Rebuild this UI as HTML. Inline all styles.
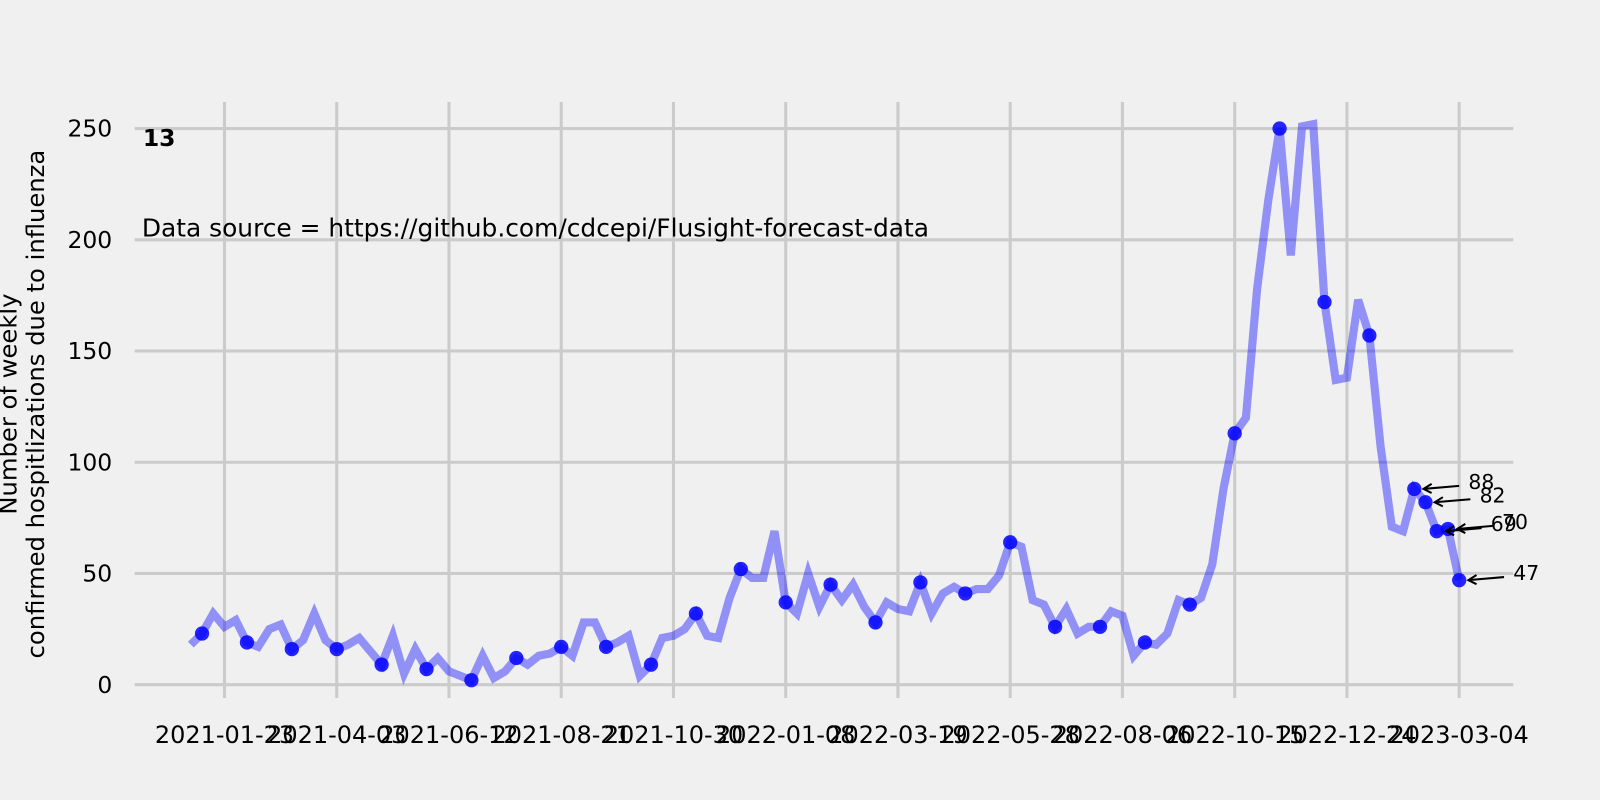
<!DOCTYPE html>
<html><head><meta charset="utf-8"><style>
html,body{margin:0;padding:0;background:#f0f0f0;width:1600px;height:800px;overflow:hidden;}
svg{display:block;}
svg text{font-family:"DejaVu Sans","Liberation Sans",sans-serif;}
</style></head><body>
<svg id="chart" width="1600" height="800" xmlns="http://www.w3.org/2000/svg">
<rect width="1600" height="800" fill="#f0f0f0"/>
<g transform="scale(1.0204)">
<g id="grid"></g><g id="series"></g><g id="labels"></g>
<text x="140" y="143" font-size="23" font-weight="bold">13</text>
<text x="139" y="232" font-size="24.4">Data source = https://github.com/cdcepi/Flusight-forecast-data</text>
<g transform="translate(0,396) rotate(-90)">
<text x="0" y="16" text-anchor="middle" font-size="23.8">Number of weekly</text>
<text x="0" y="43" text-anchor="middle" font-size="23.8">confirmed hospitlizations due to influenza</text>
</g>
</g>
</svg>
<script>
const values=[18,23,32,26,29,19,17,25,27,16,20,32,20,16,18,21,15,9,22,5,16,7,12,6,4,2,13,3,6,12,9,13,14,17,13,28,28,17,19,22,4,9,21,22,25,32,22,21,39,52,48,48,69,37,32,50,35,45,38,45,35,28,37,34,33,46,32,41,44,41,43,43,49,64,62,38,36,26,34,23,26,26,33,31,13,19,18,23,38,36,39,54,88,113,120,178,218,250,193,251,252,172,137,138,173,157,107,71,69,88,82,69,70,47];
const startDate="2021-01-02";
const tickLabels=["2021-01-23","2021-04-03","2021-06-12","2021-08-21","2021-10-30","2022-01-08","2022-03-19","2022-05-28","2022-08-06","2022-10-15","2022-12-24","2023-03-04"];
const yTicks=[0,50,100,150,200,250];
const annotated=[88,82,69,70,47];
const NS="http://www.w3.org/2000/svg";
const day0=Date.parse(startDate);
function xd(s){return 187+(Date.parse(s)-day0)/86400000*11/7;}
function xi(i){return 187+i*11;}
function y(v){return 671-v*2.18;}
function mk(t,a,p,txt){const e=document.createElementNS(NS,t);for(const k in a)e.setAttribute(k,a[k]);if(txt!==undefined)e.textContent=txt;p.appendChild(e);return e;}
const G=document.getElementById('grid'),S=document.getElementById('series'),L=document.getElementById('labels');
yTicks.forEach(v=>{
 const l=mk('line',{x1:132,x2:1483,y1:y(v),y2:y(v),stroke:'#cbcbcb','stroke-width':3},G);
 
 
 const t=mk('text',{x:110,y:y(v)+8,'text-anchor':'end','font-size':23,fill:'#000'},L,String(v));
 
 
});
tickLabels.forEach(s=>{
 const x=xd(s);
 const l=mk('line',{x1:x,x2:x,y1:100,y2:684,stroke:'#cbcbcb','stroke-width':3},G);
 
 
 const t=mk('text',{x:x,y:728,'text-anchor':'middle','font-size':23.5,fill:'#000'},L,s);
 
 
});
const pts=values.map((v,i)=>xi(i)+','+y(v)).join(' ');
const pl=mk('polyline',{points:pts,fill:'none',stroke:'#0000ff','stroke-opacity':0.4,'stroke-width':8,'stroke-linejoin':'miter'},S);


const n=values.length;
values.forEach((v,i)=>{
 if(i%4===1||i>=n-annotated.length){
  const c=mk('circle',{cx:xi(i),cy:y(v),r:7,fill:'#0000ff','fill-opacity':0.85},S);
  
  
 }
});
annotated.forEach((v,k)=>{
 const i=n-annotated.length+k;const x=xi(i),yy=y(values[i]);
 const a=mk('line',{x1:x+44,y1:yy-3,x2:x+9,y2:yy,stroke:'#000','stroke-width':2},L);
 
 
 const h=mk('polyline',{points:(x+17)+','+(yy-5)+' '+(x+9)+','+yy+' '+(x+17)+','+(yy+4),fill:'none',stroke:'#000','stroke-width':2},L);
 
 
 const t=mk('text',{x:x+53,y:yy,'font-size':20,fill:'#000'},L,String(v));
 
 
});
</script>
</body></html>
